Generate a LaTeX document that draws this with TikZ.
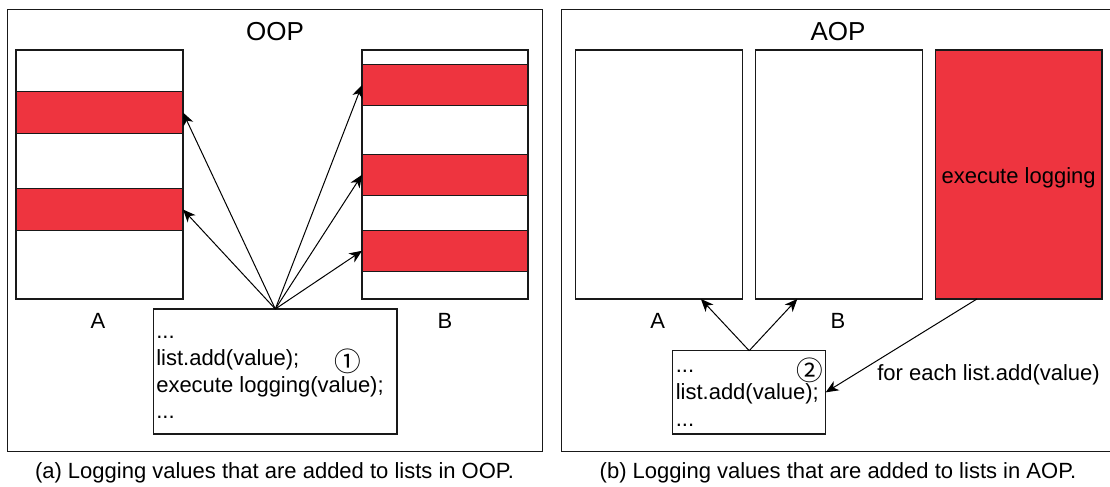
\documentclass[tikz,border=0pt]{standalone}
\usepackage{fontspec}
\setmainfont{Liberation Sans}
\newfontfamily\symfont{Noto Sans CJK SC}
\usetikzlibrary{arrows.meta,calc}
\definecolor{logred}{RGB}{238,52,63}
\definecolor{edge}{RGB}{25,25,25}

\begin{document}
\begin{tikzpicture}[x=0.75pt,y=-0.75pt,
  dims/.style 2 args={minimum width=#1*0.75pt,minimum height=#2*0.75pt},
  panel/.style={draw=edge,line width=0.9pt,inner sep=0pt,outer sep=0pt},
  list/.style={draw=edge,line width=0.8pt,fill=white,inner sep=0pt,outer sep=0pt},
  band/.style={draw=edge,line width=0.8pt,fill=logred,inner sep=0pt,outer sep=0pt},
  code/.style={draw=edge,line width=0.8pt,fill=white,inner sep=0pt,outer sep=0pt},
  txt/.style={font=\fontsize{16.5}{20}\selectfont,inner sep=0pt},
  circ/.style={font=\symfont\fontsize{20}{22}\selectfont,inner sep=0pt},
  heading/.style={font=\fontsize{19.5}{23}\selectfont,inner sep=0pt},
  flow/.style={-{Stealth[length=9.5pt,width=8pt,inset=2.8pt]},line width=0.75pt,draw=black},
]
\useasboundingbox (0,0) rectangle (1110,486);

% ---------- (a) OOP ----------
\node[panel,dims={535}{442.4}] (oop) at (275.2,230.5) {};
\node[heading,anchor=base] (oopT) at (275,40) {OOP};

\node[list,dims={167}{249}] (lA) at (99.5,174.5) {};
\node[band,dims={167}{41.5}] (a1) at (99.5,112.5) {};
\node[band,dims={167}{41.5}] (a2) at (99.5,209.5) {};

\node[list,dims={166}{249}] (lB) at (445,174.5) {};
\node[band,dims={166}{41.5}] (b1) at (445,85) {};
\node[band,dims={166}{41.5}] (b2) at (445,174.8) {};
\node[band,dims={166}{41.5}] (b3) at (445,250.8) {};

\node[txt,anchor=base] (labA) at (98,328) {A};
\node[txt,anchor=base] (labB) at (445,328) {B};

\node[code,dims={243.4}{125}] (c1) at (275.3,371.5) {};
\node[txt,anchor=base west] (c1l1) at (156,338) {...};
\node[txt,anchor=base west] (c1l2) at (156,365) {list.add(value);};
\node[txt,anchor=base west] (c1l3) at (156,392) {execute logging(value);};
\node[txt,anchor=base west] (c1l4) at (156,418) {...};
\node[circ] (n1) at (348,361) {①};

\draw[flow] (c1.north) -- (a1.east);
\draw[flow] (c1.north) -- (a2.east);
\draw[flow] (c1.north) -- (b1.west);
\draw[flow] (c1.north) -- (b2.west);
\draw[flow] (c1.north) -- (b3.west);

\node[txt,anchor=base] (capA) at (274.5,478) {(a) Logging values that are added to lists in OOP.};

% ---------- (b) AOP ----------
\node[panel,dims={560}{442.4}] (aop) at (841.7,230.5) {};
\node[heading,anchor=base] (aopT) at (838,40) {AOP};

\node[list,dims={166.8}{249}] (rA) at (659.2,174.5) {};
\node[list,dims={166.4}{249}] (rB) at (838.9,174.5) {};
\node[band,dims={166.8}{249}] (logbox) at (1018.6,174.5) {};
\node[txt,anchor=base] (logT) at (1018.6,183.3) {execute logging};

\node[txt,anchor=base] (labA2) at (657.8,328) {A};
\node[txt,anchor=base] (labB2) at (838,328) {B};

\node[code,dims={153}{83.3}] (c2) at (749.2,392.35) {};
\node[txt,anchor=base west] (c2l1) at (675.5,372.7) {...};
\node[txt,anchor=base west] (c2l2) at (675.5,399.3) {list.add(value);};
\node[txt,anchor=base west] (c2l3) at (675.5,426) {...};
\node[circ] (n2) at (809.8,370) {②};

\draw[flow] (c2.north) -- ($(rA.south west)!0.75!(rA.south east)$);
\draw[flow] (c2.north) -- ($(rB.south west)!0.25!(rB.south east)$);
\draw[flow] ($(logbox.south west)!0.25!(logbox.south east)$) -- (c2.east);
\node[txt,anchor=base west] (each) at (877,380) {for each list.add(value)};

\node[txt,anchor=base] (capB) at (838,478) {(b) Logging values that are added to lists in AOP.};
\end{tikzpicture}
\end{document}
